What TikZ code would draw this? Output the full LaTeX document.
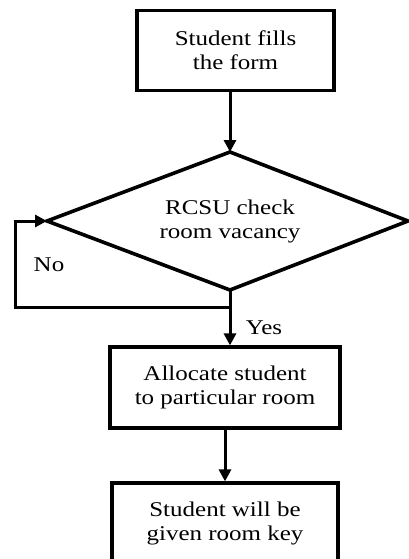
\documentclass[tikz,border=0pt]{standalone}
\usepackage{fontspec}
\setmainfont{Liberation Serif}[FakeStretch=1.19]
\usetikzlibrary{arrows.meta}
\begin{document}
\begin{tikzpicture}[x=1pt,y=-1pt,
  txt/.style={font=\fontsize{21}{24}\selectfont,align=center},
  box/.style={draw,line width=3.2pt,minimum width=#1,minimum height=81pt,inner sep=0pt,txt},
  box/.default=198pt,
  decision/.style={line width=3.6pt,line join=miter},
  flow/.style={line width=3pt,-{Triangle[length=12pt,width=12pt]}},
  plain/.style={line width=3pt},
  lbl/.style={txt,inner sep=0pt}]
\useasboundingbox (0,0) rectangle (409,559);
\clip (0,0) rectangle (409,559);
\node[box=197pt,minimum height=80pt] (b1) at (235.5,50.5) {Student fills\\the form};
% decision diamond
\coordinate (dN) at (230,152);
\coordinate (dS) at (230,290);
\coordinate (dW) at (47,221);
\coordinate (dE) at (408,221);
\draw[decision] (dN) -- (dE) -- (dS) -- (dW) -- cycle;
\node[txt,inner sep=0pt] (d) at (230,221) {RCSU check\\room vacancy};
\node[box=230pt] (b3) at (225,387.5) {Allocate student\\to particular room};
\node[box=226pt] (b4) at (225,523.5) {Student will be\\given room key};
\coordinate (j) at (230,307);
\coordinate (lb) at (15,307);
\coordinate (lt) at (15,221);
\draw[flow] (dN |- b1.south) -- (dN);
\draw[plain] (dS) -- (j);
\draw[line width=3pt,line join=miter] (j) -- (lb) -- (lt);
\draw[flow] ([xshift=-1.5pt]lt) -- (dW);
\draw[flow] (j) -- (j |- b3.north);
\draw[flow] (b3.south) -- (b4.north);
\node[lbl] (no) at (49,265) {No};
\node[lbl] (yes) at (264,328) {Yes};
\end{tikzpicture}
\end{document}
